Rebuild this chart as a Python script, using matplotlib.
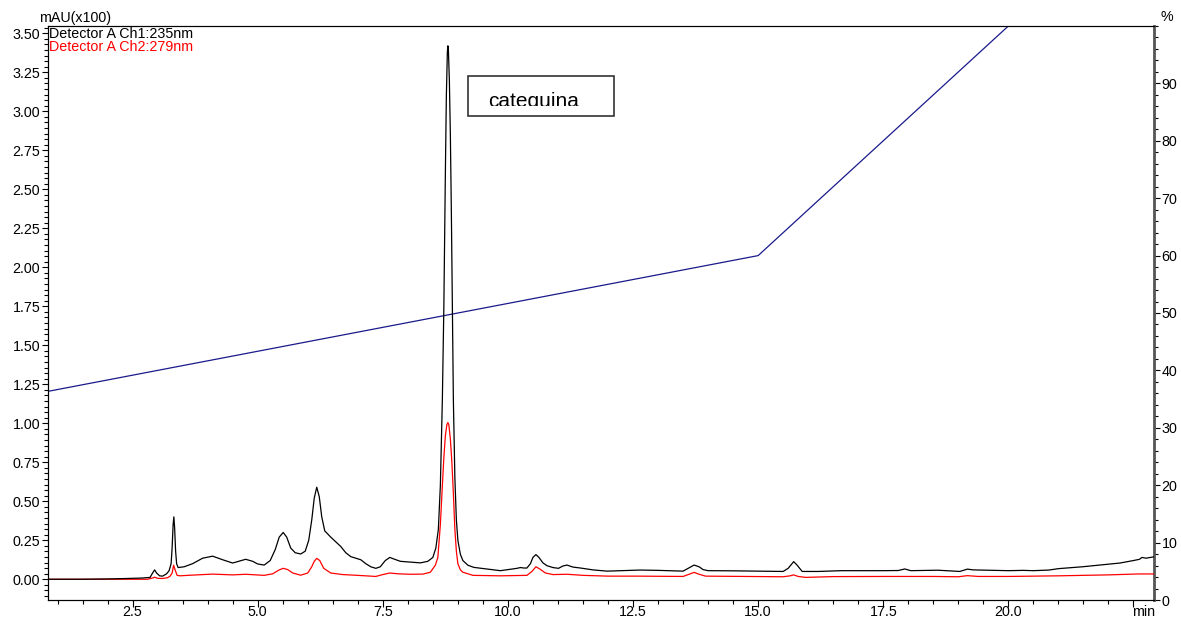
import matplotlib.pyplot as plt
from matplotlib.patches import Rectangle
from matplotlib.ticker import MultipleLocator, FixedLocator

plt.rcParams["font.family"] = ["Liberation Sans", "DejaVu Sans"]

t_ch1 = [0.81, 1.5, 2.0, 2.4, 2.7, 2.85, 2.90, 2.94, 2.98, 3.04, 3.10, 3.18, 3.23, 3.27,
         3.29, 3.31, 3.325, 3.34, 3.36, 3.38, 3.41, 3.53, 3.70, 3.90, 4.10, 4.30, 4.50,
         4.65, 4.76, 4.90, 5.00, 5.13, 5.25, 5.35, 5.43, 5.51, 5.58, 5.66, 5.75, 5.86,
         5.95, 6.02, 6.08, 6.13, 6.18, 6.23, 6.28, 6.34, 6.40, 6.46, 6.56, 6.66, 6.76,
         6.86, 6.96, 7.06, 7.16, 7.26, 7.36, 7.45, 7.55, 7.64, 7.72, 7.85, 8.05, 8.25,
         8.40, 8.50, 8.56, 8.61, 8.65, 8.69, 8.72, 8.75, 8.77, 8.79, 8.80, 8.81, 8.83,
         8.85, 8.87, 8.89, 8.91, 8.94, 8.97, 9.00, 9.05, 9.10, 9.20, 9.32, 9.60, 9.85,
         10.18, 10.25, 10.32, 10.38, 10.45, 10.50, 10.56, 10.62, 10.70, 10.78, 10.90,
         11.01, 11.10, 11.18, 11.30, 11.45, 11.70, 11.98, 12.64, 13.00, 13.50, 13.60,
         13.72, 13.82, 13.90, 14.00, 14.50, 15.00, 15.50, 15.60, 15.71, 15.78, 15.88,
         16.20, 16.66, 17.00, 17.50, 17.80, 17.93, 18.05, 18.59, 19.03, 19.18, 19.30,
         20.00, 20.30, 20.50, 20.81, 21.00, 21.48, 21.80, 22.23, 22.50, 22.62, 22.67,
         22.75, 22.93]
v_ch1 = [0.0, 0.0, 0.002, 0.005, 0.008, 0.012, 0.04, 0.06, 0.04, 0.022, 0.02, 0.035, 0.055, 0.10,
         0.20, 0.35, 0.40, 0.33, 0.18, 0.10, 0.075, 0.08, 0.10, 0.135, 0.148, 0.125, 0.104,
         0.118, 0.128, 0.115, 0.098, 0.091, 0.12, 0.19, 0.27, 0.30, 0.27, 0.20, 0.17, 0.162,
         0.18, 0.25, 0.38, 0.52, 0.59, 0.53, 0.40, 0.31, 0.29, 0.27, 0.24, 0.21, 0.17,
         0.145, 0.135, 0.125, 0.10, 0.08, 0.07, 0.08, 0.12, 0.14, 0.13, 0.115, 0.11, 0.105,
         0.115, 0.14, 0.20, 0.32, 0.60, 1.15, 1.75, 2.60, 3.10, 3.38, 3.42, 3.40, 3.20,
         2.85, 2.35, 1.75, 1.15, 0.65, 0.38, 0.25, 0.16, 0.12, 0.09, 0.076, 0.065, 0.055,
         0.07, 0.075, 0.072, 0.072, 0.10, 0.14, 0.158, 0.14, 0.105, 0.087, 0.075,
         0.07, 0.085, 0.091, 0.078, 0.072, 0.06, 0.052, 0.059, 0.057, 0.052, 0.07,
         0.091, 0.08, 0.062, 0.055, 0.054, 0.052, 0.05, 0.07, 0.113, 0.09, 0.05,
         0.05, 0.055, 0.055, 0.055, 0.056, 0.066, 0.055, 0.058, 0.05, 0.065, 0.06,
         0.055, 0.057, 0.055, 0.059, 0.068, 0.08, 0.09, 0.104, 0.12, 0.128, 0.14,
         0.135, 0.145]

t_ch2 = [0.81, 2.80, 2.90, 2.94, 3.00, 3.10, 3.20, 3.25, 3.29, 3.32, 3.35, 3.39, 3.45, 3.60,
         4.10, 4.50, 4.76, 5.13, 5.30, 5.43, 5.51, 5.60, 5.70, 5.86, 6.00, 6.08, 6.13,
         6.18, 6.24, 6.32, 6.46, 6.70, 7.00, 7.36, 7.50, 7.64, 7.80, 8.05, 8.30, 8.45,
         8.55, 8.60, 8.65, 8.69, 8.72, 8.75, 8.78, 8.80, 8.82, 8.85, 8.88, 8.91, 8.94,
         8.97, 9.00, 9.05, 9.10, 9.30, 9.85, 10.38, 10.48, 10.56, 10.64, 10.75, 10.90,
         11.18, 11.50, 12.00, 12.60, 13.50, 13.62, 13.72, 13.82, 13.95, 15.50, 15.64,
         15.71, 15.80, 15.95, 16.50, 17.50, 18.50, 19.00, 19.18, 19.40, 20.00, 21.00,
         21.50, 22.00, 22.60, 22.93]
v_ch2 = [0.0, 0.0, 0.008, 0.013, 0.006, 0.005, 0.01, 0.02, 0.04, 0.09, 0.06, 0.025, 0.022, 0.025,
         0.033, 0.028, 0.032, 0.025, 0.035, 0.06, 0.07, 0.062, 0.04, 0.026, 0.04, 0.08, 0.115,
         0.134, 0.12, 0.07, 0.04, 0.03, 0.025, 0.018, 0.03, 0.04, 0.035, 0.032, 0.033, 0.045,
         0.09, 0.14, 0.35, 0.60, 0.78, 0.92, 0.99, 1.005, 0.99, 0.90, 0.75, 0.55, 0.32,
         0.18, 0.10, 0.06, 0.045, 0.025, 0.022, 0.025, 0.05, 0.08, 0.065, 0.04, 0.03,
         0.032, 0.025, 0.02, 0.02, 0.018, 0.032, 0.044, 0.032, 0.02, 0.016, 0.022,
         0.028, 0.018, 0.012, 0.017, 0.018, 0.018, 0.016, 0.023, 0.018, 0.018, 0.022,
         0.025, 0.028, 0.034, 0.034]

# gradiente (% B)
t_grad = [0.0, 15.0, 20.0, 23.0]
b_grad = [35.0, 60.0, 100.0, 100.0]

x_ticks = [2.5, 5.0, 7.5, 10.0, 12.5, 15.0, 17.5, 20.0, 22.5]
x_labels = ["2.5", "5.0", "7.5", "10.0", "12.5", "15.0", "17.5", "20.0", ""]

# === GRAFICO ===
fig = plt.figure(figsize=(11.81, 6.23), dpi=100)
ax = fig.add_axes([48 / 1181, 23 / 623, 1106 / 1181, 574 / 623])
ax2 = ax.twinx()

ax.plot(t_ch1, v_ch1, color="black", linewidth=0.9, zorder=3)
ax.plot(t_ch2, v_ch2, color="#ff0000", linewidth=0.9, zorder=2)
ax2.plot(t_grad, b_grad, color="#1a1a8c", linewidth=0.9)
ax2.set_zorder(ax.get_zorder() - 1)
ax.patch.set_visible(False)

ax.set_xlim(0.81, 22.91)
ax.set_ylim(-0.133, 3.547)
ax2.set_ylim(0, 100)

ax.xaxis.set_major_locator(FixedLocator(x_ticks))
ax.set_xticklabels(x_labels)
ax.xaxis.set_minor_locator(MultipleLocator(0.5))
ax.yaxis.set_major_locator(MultipleLocator(0.25))
ax.yaxis.set_minor_locator(MultipleLocator(0.25 / 7))
ax.set_yticks([i * 0.25 for i in range(15)])
ax.set_yticklabels([f"{i * 0.25:.2f}" for i in range(15)])
ax2.yaxis.set_major_locator(MultipleLocator(10))
ax2.yaxis.set_minor_locator(MultipleLocator(2))
ax2.set_yticks(range(0, 100, 10))

ax.tick_params(axis="x", which="major", length=5, width=0.8, pad=-1.5, labelsize=10.3)
ax.tick_params(axis="x", which="minor", length=3, width=0.8)
ax.tick_params(axis="y", which="major", length=4.5, width=0.8, pad=1, labelsize=10.3)
ax.tick_params(axis="y", which="minor", length=2.8, width=0.8)
ax2.tick_params(axis="y", which="major", length=4.5, width=0.8, pad=1, labelsize=10.3)
ax2.tick_params(axis="y", which="minor", length=2.8, width=0.8)

for s in ["left", "top", "bottom"]:
    ax.spines[s].set_linewidth(0.8)
ax2.spines["right"].set_linewidth(2.0)
ax2.spines["right"].set_color("#555555")
ax.spines["right"].set_visible(False)

ax.text(22.71, -0.009, "min", transform=ax.get_xaxis_transform(), ha="center", va="top",
        fontsize=10.3)
fig.text(75 / 1181, 1 - 18 / 623, "mAU(x100)", ha="center", va="center", fontsize=10.3)
fig.text(1167 / 1181, 1 - 17 / 623, "%", ha="center", va="center", fontsize=10.3)

ax.text(0.001, 0.986, "Detector A Ch1:235nm", transform=ax.transAxes, ha="left",
        va="center", fontsize=10.3, color="black")
ax.text(0.001, 0.963, "Detector A Ch2:279nm", transform=ax.transAxes, ha="left",
        va="center", fontsize=10.3, color="#ff0000")

# recuadro "catequina" (texto recortado por abajo)
caja = Rectangle((468 / 1181, 1 - 116 / 623), 146 / 1181, 40 / 623, transform=fig.transFigure,
                 facecolor="white", edgecolor="#222222", linewidth=1.1, zorder=5)
fig.patches.append(caja)
clip = Rectangle((468 / 1181, 1 - 106 / 623), 146 / 1181, 30 / 623, transform=fig.transFigure,
                 facecolor="none", edgecolor="none")
txt = fig.text(488 / 1181, 1 - 107 / 623, "catequina", ha="left", va="baseline",
               fontsize=15, zorder=6)
txt.set_clip_path(clip)

plt.savefig("out.png", dpi=100)
